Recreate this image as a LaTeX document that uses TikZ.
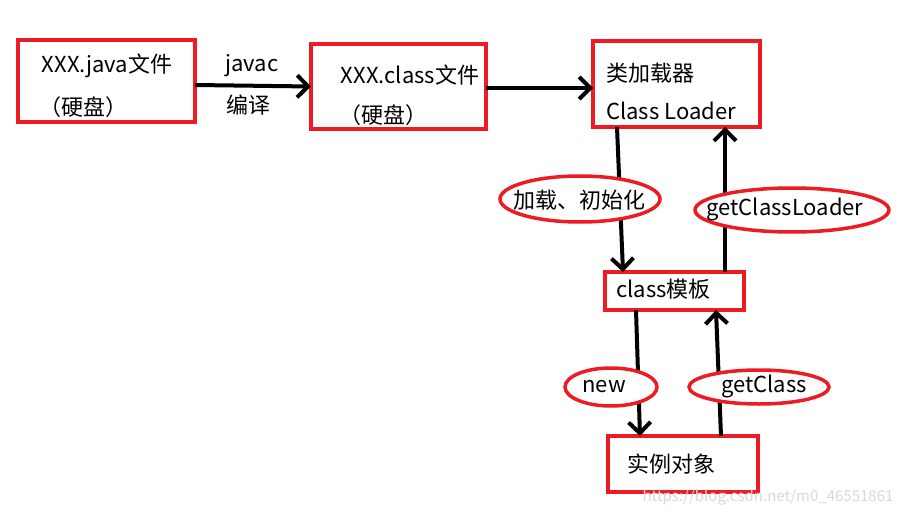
\documentclass[tikz,border=0pt]{standalone}
\usepackage{fontspec}
\setmainfont{Noto Sans CJK SC}
\usetikzlibrary{arrows.meta,shapes.geometric}
\definecolor{boxred}{RGB}{237,28,36}
\tikzset{
  box/.style={draw=boxred,line width=4pt,inner sep=0pt,outer sep=0pt,rectangle},
  oval/.style={draw=boxred,line width=3.5pt,fill=white,ellipse,inner sep=0pt,outer sep=0pt},
  txt/.style={inner sep=0pt,font=\fontsize{22}{24}\selectfont},
  conn/.style={line width=4pt,-{Straight Barb[length=11pt,width=22pt,line width=4pt]}},
}
\begin{document}
\begin{tikzpicture}[x=1pt,y=-1pt]
\useasboundingbox (0,0) rectangle (900,516);
\fill[white] (0,0) rectangle (900,516);
% boxes
\node[box,minimum width=177pt,minimum height=82pt] (b1) at (106.5,81) {};
\node[box,minimum width=175pt,minimum height=85pt] (b2) at (398.5,86.5) {};
\node[box,minimum width=167pt,minimum height=86pt] (b3) at (676.5,84) {};
\node[box,minimum width=139pt,minimum height=38pt] (b4) at (674.5,291) {};
\node[box,minimum width=150pt,minimum height=56pt] (b5) at (683,464) {};
% box texts
\node[txt] (t1a) at (107,66) {XXX.java文件};
\node[txt] (t1b) at (83,107) {（硬盘）};
\node[txt] (t2a) at (410,75) {XXX.class文件};
\node[txt] (t2b) at (383,115) {（硬盘）};
\node[txt,anchor=west] (t3a) at (606,73) {类加载器};
\node[txt,anchor=west] (t3b) at (606,111) {Class Loader};
\node[txt,anchor=west] (t4) at (616,289) {class模板};
\node[txt] (t5) at (671,464) {实例对象};
% labels on first arrow
\node[txt] (lj) at (252,66) {javac};
\node[txt] (lc) at (248,105) {编译};
% connectors
\draw[conn] ([yshift=-4pt]b1.east) -- ([yshift=0pt]b2.west);
\draw[conn] ([yshift=-1.5pt]b2.east) -- ([yshift=-4pt]b3.west);
\draw[conn] ([xshift=-59.5pt]b3.south) -- ([xshift=-51.5pt]b4.north);
\draw[conn] ([xshift=50.5pt]b4.north) -- ([xshift=48.5pt]b3.south);
\draw[conn] ([xshift=-38.5pt]b4.south) -- ([xshift=-43pt]b5.north);
\draw[conn] ([xshift=38pt]b5.north) -- ([xshift=41.5pt]b4.south);
% ovals
\node[oval,minimum width=160pt,minimum height=46pt] (e1) at (580,199) {};
\node[oval,minimum width=194pt,minimum height=44pt] (e2) at (792,210) {};
\node[oval,minimum width=92pt,minimum height=38pt] (e3) at (611,387) {};
\node[oval,minimum width=140pt,minimum height=34pt] (e4) at (759,387) {};
\node[txt] (l1) at (579,200) {加载、初始化};
\node[txt] (l2) at (785,209) {getClassLoader};
\node[txt] (l3) at (604,387) {new};
\node[txt] (l4) at (764,386) {getClass};
% watermark
\node[inner sep=0pt,text=gray!30,font=\fontsize{15}{16}\selectfont] (wm) at (768,497) {https://blog.csdn.net/m0\_46551861};
\end{tikzpicture}
\end{document}
